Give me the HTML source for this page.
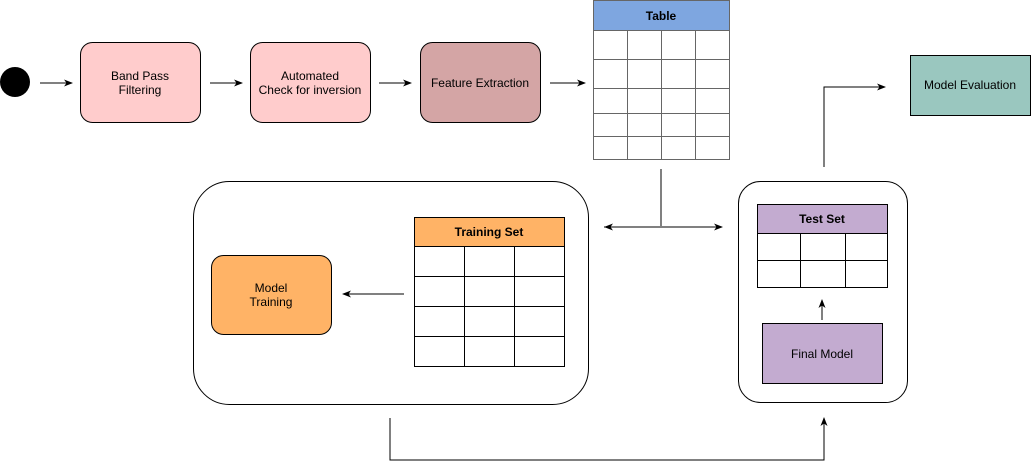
<!DOCTYPE html>
<html><head><meta charset="utf-8"><style>
html,body{margin:0;padding:0;background:#fff;}
svg text{font-family:"Liberation Sans",sans-serif;font-size:12px;fill:#000;text-anchor:middle;}
.b{font-weight:bold;}
</style></head><body>
<svg width="1031" height="468" viewBox="0 0 1031 468" xmlns="http://www.w3.org/2000/svg">
<defs><marker id="a" markerWidth="10" markerHeight="10" refX="8" refY="5" orient="auto" markerUnits="userSpaceOnUse"><path d="M0,1.5 L9,5 L0,8.5 L2.5,5 Z" fill="#000"/></marker>
<marker id="s" markerWidth="10" markerHeight="10" refX="1" refY="5" orient="auto" markerUnits="userSpaceOnUse"><path d="M10,1.5 L1,5 L10,8.5 L7.5,5 Z" fill="#000"/></marker></defs>
<circle cx="15" cy="82" r="15" fill="#000"/>
<g stroke="#000" fill="none" stroke-width="1">
<line x1="40" y1="83" x2="72" y2="83" marker-end="url(#a)"/>
<line x1="210" y1="83" x2="242" y2="83" marker-end="url(#a)"/>
<line x1="379" y1="83" x2="411" y2="83" marker-end="url(#a)"/>
<line x1="550" y1="83" x2="585" y2="83" marker-end="url(#a)"/>
<polyline points="824,167 824,87 885,87" marker-end="url(#a)"/>
<line x1="661" y1="169" x2="661" y2="226"/>
<line x1="604" y1="227" x2="722" y2="227" marker-start="url(#s)" marker-end="url(#a)"/>
<polyline points="390,418 390,460 824,460 824,418" marker-end="url(#a)"/>
<line x1="404" y1="294" x2="343" y2="294" marker-end="url(#a)"/>
<line x1="822" y1="320" x2="822" y2="300" marker-end="url(#a)"/>
</g>
<rect x="80.5" y="42.5" width="120" height="80" rx="12" fill="#ffcccc" stroke="#000"/>
<text x="140" y="80">Band Pass</text><text x="140" y="94">Filtering</text>
<rect x="250.5" y="42.5" width="120" height="80" rx="12" fill="#ffcccc" stroke="#000"/>
<text x="310" y="80">Automated</text><text x="310" y="94">Check for inversion</text>
<rect x="420.5" y="42.5" width="120" height="80" rx="12" fill="#d4a5a5" stroke="#000"/>
<text x="480" y="87">Feature Extraction</text>
<rect x="910.5" y="55.5" width="120" height="60" fill="#9ac7bf" stroke="#000"/>
<text x="970" y="89">Model Evaluation</text>
<!-- Table -->
<rect x="593.5" y="0.5" width="136" height="30" fill="#7ea6e0" stroke="#666"/>
<text x="661" y="20" class="b">Table</text>
<g stroke="#666" fill="none">
<rect x="593.5" y="30.5" width="136" height="129" fill="#fff"/>
<line x1="593" y1="59.5" x2="729" y2="59.5"/><line x1="593" y1="88.5" x2="729" y2="88.5"/>
<line x1="593" y1="113.5" x2="729" y2="113.5"/><line x1="593" y1="136.5" x2="729" y2="136.5"/>
<line x1="627.5" y1="30" x2="627.5" y2="160"/><line x1="661.5" y1="30" x2="661.5" y2="160"/><line x1="695.5" y1="30" x2="695.5" y2="160"/>
</g>
<!-- Training container -->
<rect x="193.5" y="181.5" width="395" height="223" rx="36" fill="none" stroke="#000"/>
<rect x="211.5" y="255.5" width="120" height="79" rx="12" fill="#ffb366" stroke="#000"/>
<text x="271" y="292">Model</text><text x="271" y="306">Training</text>
<rect x="414.5" y="217.5" width="150" height="29" fill="#ffb366" stroke="#000"/>
<text x="489" y="236" class="b">Training Set</text>
<g stroke="#000" fill="none">
<rect x="414.5" y="246.5" width="150" height="120" fill="#fff"/>
<line x1="414" y1="276.5" x2="564" y2="276.5"/><line x1="414" y1="306.5" x2="564" y2="306.5"/><line x1="414" y1="336.5" x2="564" y2="336.5"/>
<line x1="464.5" y1="246" x2="464.5" y2="366"/><line x1="514.5" y1="246" x2="514.5" y2="366"/>
</g>
<!-- Test container -->
<rect x="738.5" y="181.5" width="169" height="221" rx="22" fill="none" stroke="#000"/>
<rect x="757.5" y="204.5" width="130" height="29" fill="#c3abd0" stroke="#000"/>
<text x="822" y="223" class="b">Test Set</text>
<g stroke="#000" fill="none">
<rect x="757.5" y="233.5" width="130" height="54" fill="#fff"/>
<line x1="757" y1="260.5" x2="887" y2="260.5"/>
<line x1="800.5" y1="233" x2="800.5" y2="287"/><line x1="845.5" y1="233" x2="845.5" y2="287"/>
</g>
<rect x="762.5" y="323.5" width="120" height="60" fill="#c3abd0" stroke="#000"/>
<text x="822" y="358">Final Model</text>
</svg>
</body></html>
